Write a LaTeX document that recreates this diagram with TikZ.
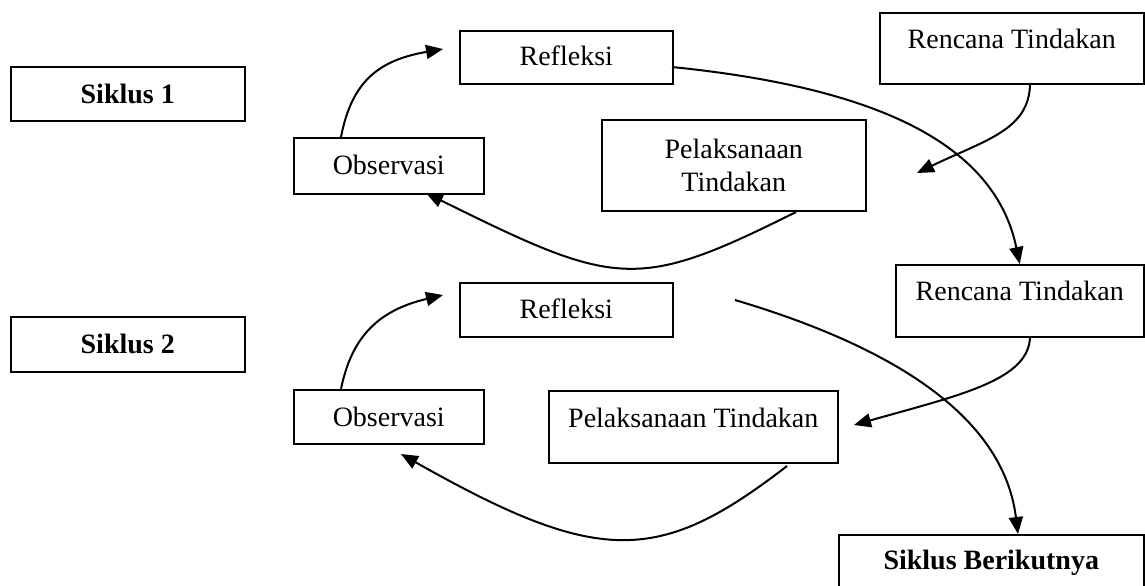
\documentclass[tikz,border=0pt]{standalone}
\usepackage{fontspec}
\setmainfont{Liberation Serif}
\usetikzlibrary{arrows.meta, calc}
\tikzset{
	boxnode/.style={
			draw=black,
			line width=0.75pt,
			rectangle,
			inner sep=0pt,
			anchor=north west,
			font=\fontsize{14}{16.5}\selectfont
		},
	boldnode/.style={
			boxnode,
			font=\fontsize{14}{16.5}\selectfont\bfseries
		},
	flowarrow/.style={
			line width=1pt,
			-{Triangle[length=8.5pt,width=7pt]}
		}
}

\begin{document}
\begin{tikzpicture}[x=0.5pt, y=-0.5pt]
    \useasboundingbox (0,0) rectangle (1145,585);

    \node[boldnode, minimum width=117pt, text height=18.5pt, text depth=8.5pt] (siklus1) at (10,66) {Siklus 1};
    \node[boldnode, minimum width=117pt, text height=18.5pt, text depth=9pt] (siklus2) at (10,316) {Siklus 2};

    \node[boxnode, minimum width=106.5pt, text height=17.5pt, text depth=9pt] (ref1) at (459,30) {Refleksi};
    \node[boxnode, minimum width=95pt, text height=18.5pt, text depth=9.5pt] (obs1) at (293,137) {Observasi};
    \node[boxnode, align=center, minimum width=132pt, minimum height=45.5pt] (pel1) at (601,119) {Pelaksanaan\\Tindakan};
    \node[boxnode, minimum width=132pt, text height=18pt, text depth=17.5pt] (ren1) at (879,12) {Rencana Tindakan};

    \node[boxnode, minimum width=124pt, text height=18pt, text depth=18pt] (ren2) at (895,264) {Rencana Tindakan};
    \node[boxnode, minimum width=106.5pt, text height=18pt, text depth=9pt] (ref2) at (459,282) {Refleksi};
    \node[boxnode, minimum width=95pt, text height=18.5pt, text depth=8.5pt] (obs2) at (293,389) {Observasi};
    \node[boxnode, minimum width=144.5pt, text height=18.5pt, text depth=17.5pt] (pel2) at (548,390) {Pelaksanaan Tindakan};
    \node[boldnode, minimum width=152.5pt, text height=17.5pt, text depth=12pt] (next) at (838,534) {Siklus Berikutnya};

    \coordinate (ref1out) at (672,67);
    \coordinate (ren1out) at (1030,83);
    \coordinate (pel1in) at (917,173);
    \coordinate (pel1out) at (796,212);
    \coordinate (obs1in) at (426,193);
    \coordinate (obs1out) at (341,137);
    \coordinate (ref1in) at (443,49);

    \coordinate (ref2out) at (735,300);
    \coordinate (nextin) at (1018,534);
    \coordinate (ren2out) at (1030,336);
    \coordinate (pel2in) at (854,425);
    \coordinate (pel2out) at (787,466);
    \coordinate (obs2in) at (401,454);
    \coordinate (obs2out) at (341,389);
    \coordinate (ref2in) at (443,295);

    \draw[flowarrow] (ref1out) .. controls (880,88) and (995,145) .. (ren2.north);
    \draw[flowarrow] (ren1out) .. controls (1030,130) and (985,140) .. (pel1in);
    \draw[flowarrow] (pel1out) .. controls (636,292) and (616,287) .. (obs1in);
    \draw[flowarrow] (obs1out) .. controls (352,80) and (380,60) .. (ref1in);

    \draw[flowarrow] (ref2out) .. controls (920,355) and (1005,430) .. (nextin);
    \draw[flowarrow] (ren2out) .. controls (1030,380) and (960,395) .. (pel2in);
    \draw[flowarrow] (pel2out) .. controls (659,565) and (599,566) .. (obs2in);
    \draw[flowarrow] (obs2out) .. controls (352,335) and (380,310) .. (ref2in);
\end{tikzpicture}
\end{document}
